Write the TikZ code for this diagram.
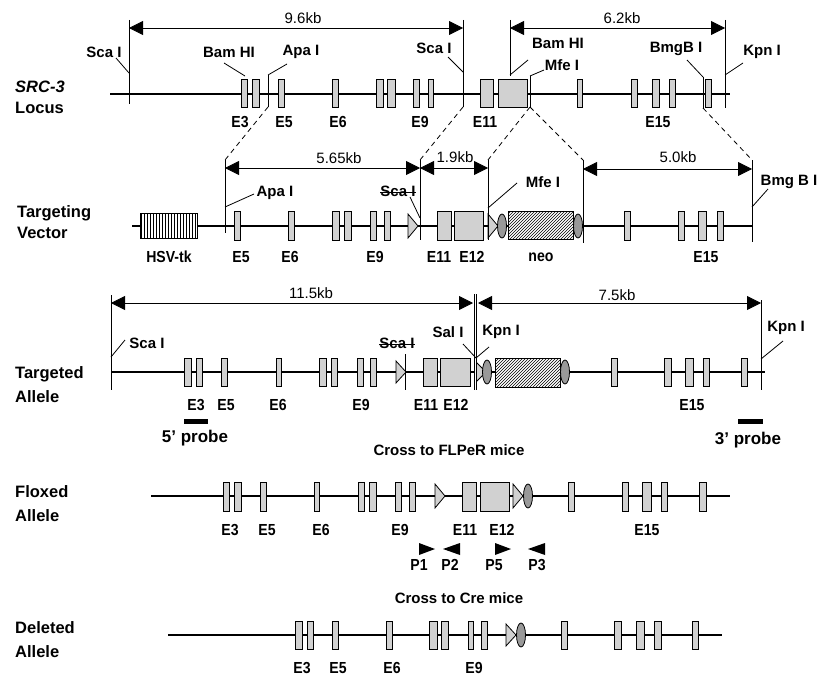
\documentclass[tikz,border=0pt]{standalone}
\usepackage{fontspec}
\setmainfont{Liberation Sans}
\newfontfamily\narrowsans{Liberation Sans}[FakeStretch=0.88]
\usetikzlibrary{arrows.meta,patterns}
\tikzset{
    chrom/.style={line width=2.8pt},
    exon/.style={draw, fill=black!18, line width=1pt},
    site/.style={line width=0.8pt},
    cutline/.style={line width=0.8pt, dash pattern=on 5pt off 4pt},
    kbspan/.style={{Triangle[length=14pt,width=14pt]}-{Triangle[length=14pt,width=14pt]}, line width=0.8pt},
    lbl/.style={inner sep=0pt, font=\fontsize{15}{15}\selectfont\bfseries},
    kblbl/.style={inner sep=0pt, font=\fontsize{15}{15}\selectfont},
    exlbl/.style={inner sep=0pt, font=\narrowsans\fontsize{16}{16}\selectfont\bfseries},
    probelbl/.style={inner sep=0pt, font=\fontsize{17}{17}\selectfont\bfseries},
    side/.style={inner sep=0pt, anchor=west, align=left, font=\fontsize{16.5}{21}\selectfont\bfseries},
    loxp/.style={draw, fill=black!18, line width=0.8pt},
    frt/.style={draw, fill=black!40, line width=0.8pt},
    primer/.style={fill=black}
}
\newcommand{\lox}[3]{\draw[loxp] (#1,#2-#3) -- (#1+10,#2) -- (#1,#2+#3) -- cycle;}
\newcommand{\frtsite}[2]{\draw[frt] (#1,#2) ellipse [x radius=4.5, y radius=12];}
\begin{document}
\begin{tikzpicture}[x=1pt,y=-1pt]
    \useasboundingbox (0,0) rectangle (827,677);
    % SRC-3 locus
    \node[side] (locus) at (15,97.5) {\textit{SRC-3}\\Locus};
    \draw[chrom] (110,94) -- (730,94);
    \foreach \a/\b in {241/247,252/259,278/284,332/338,376/383,387/395,413/419,428/433,480/493,498/527,577/582,631/637,652/659,669/675,705/711}
        \draw[exon] (\a,79) rectangle (\b,107);
    \foreach \x/\t in {240/E3,284/E5,338/E6,420/E9,485/E11,658/E15}
        \node[exlbl] (l1\t) at (\x,122) {\t};
    \draw[site] (129,20) -- (129,104);
    \draw[site] (463,20) -- (463,107);
    \draw[site] (510,20) -- (510,76);
    \draw[site] (725,20) -- (725,108);
    \draw[site] (268,75) -- (268,107);
    \draw[site] (530,76) -- (530,107);
    \draw[site] (703,77) -- (703,108);
    \draw[kbspan] (129,28) -- (463,28);
    \draw[kbspan] (510,28) -- (725,28);
    \node[kblbl] (kbA) at (303,18) {9.6kb};
    \node[kblbl] (kbB) at (622,18) {6.2kb};
    \node[lbl] (scaA) at (104,52) {Sca I};
    \node[lbl] (bamA) at (229,52) {Bam HI};
    \node[lbl] (apaA) at (301,52) {Apa I};
    \node[lbl] (scaB) at (434,48) {Sca I};
    \node[lbl] (bamB) at (558,43) {Bam HI};
    \node[lbl] (mfeA) at (562,65) {Mfe I};
    \node[lbl] (bmgA) at (676,49) {BmgB I};
    \node[lbl] (kpnA) at (762,52) {Kpn I};
    \draw[site] (116,58) -- (129,73);
    \draw[site] (224,63) -- (245,76);
    \draw[site] (287,64) -- (268,75);
    \draw[site] (448,57) -- (463,72);
    \draw[site] (528,60) -- (510,75);
    \draw[site] (544,70) -- (530,76);
    \draw[site] (687,60) -- (703,77);
    \draw[site] (743,63) -- (725,75);
    \draw[cutline] (268,107) -- (225,160);
    \draw[cutline] (463,107) -- (420,160);
    \draw[cutline] (530,107) -- (488,160);
    \draw[cutline] (530,107) -- (583,160);
    \draw[cutline] (703,108) -- (752,160);
    % targeting vector
    \node[side] (vector) at (17,222.5) {Targeting\\Vector};
    \draw[chrom] (132,226) -- (752,226);
    \draw[line width=1pt, fill=white] (140,213) rectangle (197,238);
    \draw[line width=1pt, pattern=vertical lines] (140,213) rectangle (197,238);
    \foreach \a/\b in {234/240,288/294,332/339,344/351,370/376,384/390,437/451,454/483,624/630,678/684,698/706,717/723}
        \draw[exon] (\a,211) rectangle (\b,240);
    \lox{408}{226}{12}
    \lox{488}{226}{12}
    \frtsite{502}{226}
    \draw[line width=1pt, fill=white] (508,211) rectangle (573,239);
    \draw[line width=1pt, pattern=north east lines] (508,211) rectangle (573,239);
    \frtsite{578}{226}
    \foreach \x/\t in {169/HSV-tk,241/E5,290/E6,375/E9,439/E11,472/E12,541/neo,706/E15}
        \node[exlbl] (l2\t) at (\x,257) {\t};
    \draw[site] (225,160) -- (225,233);
    \draw[site] (420,160) -- (420,240);
    \draw[site] (488,160) -- (488,240);
    \draw[site] (583,160) -- (583,243);
    \draw[site] (752,160) -- (752,242);
    \draw[kbspan] (225,168) -- (420,168);
    \draw[kbspan] (420,168) -- (488,168);
    \draw[kbspan] (583,169) -- (752,169);
    \node[kblbl] (kbC) at (339,158) {5.65kb};
    \node[kblbl] (kbD) at (455,157) {1.9kb};
    \node[kblbl] (kbE) at (678,157) {5.0kb};
    \node[lbl] (apaB) at (275,193) {Apa I};
    \node[lbl] (scaC) at (398,191) {Sca I};
    \draw[site] ([yshift=-1.5pt]scaC.west) -- ([yshift=-1.5pt]scaC.east);
    \node[lbl] (mfeB) at (543,182) {Mfe I};
    \node[lbl] (bmgB) at (789,182) {Bmg B I};
    \draw[site] (254,194) -- (225,207);
    \draw[site] (410,197) -- (420,218);
    \draw[site] (517,183) -- (488,208);
    \draw[site] (768,189) -- (752,207);
    % targeted allele
    \node[side] (targeted) at (15,385) {Targeted\\[3pt]Allele};
    \draw[chrom] (111,372) -- (765,372);
    \foreach \a/\b in {184/191,196/202,221/227,276/281,319/326,331/337,357/363,370/376,423/437,440/470,611/617,664/671,685/693,703/709,741/747}
        \draw[exon] (\a,358) rectangle (\b,386);
    \lox{396}{372}{11}
    \lox{476}{372}{10}
    \frtsite{487}{372}
    \draw[line width=1pt, fill=white] (495,358) rectangle (560,387);
    \draw[line width=1pt, pattern=north east lines] (495,358) rectangle (560,387);
    \frtsite{565}{372}
    \foreach \x/\t in {196/E3,226/E5,278/E6,361/E9,426/E11,456/E12,692/E15}
        \node[exlbl] (l3\t) at (\x,405) {\t};
    \draw[site] (111,295) -- (111,390);
    \draw[site] (405,354) -- (405,390);
    \draw[line width=0.9pt, double, double distance=1.2pt] (475.5,294) -- (475.5,390);
    \draw[site] (761,300) -- (761,390);
    \draw[kbspan] (111,303) -- (473,303);
    \draw[kbspan] (478,303) -- (761,303);
    \node[kblbl] (kbF) at (311,293) {11.5kb};
    \node[kblbl] (kbG) at (617,295) {7.5kb};
    \node[lbl] (scaD) at (147,343) {Sca I};
    \node[lbl] (scaE) at (397,343) {Sca I};
    \draw[site] ([yshift=-1.5pt]scaE.west) -- ([yshift=-1.5pt]scaE.east);
    \node[lbl] (salA) at (448,332) {Sal I};
    \node[lbl] (kpnB) at (501,332) {Kpn I};
    \node[lbl] (kpnC) at (786,328) {Kpn I};
    \draw[site] (125,340) -- (111,357);
    \draw[site] (463,344) -- (476,358);
    \draw[site] (489,347) -- (476,358);
    \draw[site] (783,341) -- (761,359);
    \draw[line width=5pt] (184,421) -- (208,421);
    \draw[line width=5pt] (738,421) -- (763,421);
    \node[probelbl] (probeA) at (195,438) {5’ probe};
    \node[probelbl] (probeB) at (748,440) {3’ probe};
    \node[lbl] (flp) at (449,450) {Cross to FLPeR mice};
    % floxed allele
    \node[side] (floxed) at (15,504) {Floxed\\[3pt]Allele};
    \draw[chrom] (151,496) -- (730,496);
    \foreach \a/\b in {223/229,234/241,260/266,314/319,358/364,369/376,395/401,409/415,462/476,480/509,568/574,622/628,642/651,661/667,699/706}
        \draw[exon] (\a,482) rectangle (\b,511);
    \lox{435}{496}{12}
    \lox{513}{496}{12}
    \frtsite{528}{496}
    \foreach \x/\t in {230/E3,267/E5,321/E6,400/E9,465/E11,502/E12,647/E15}
        \node[exlbl] (l4\t) at (\x,530) {\t};
    \fill[primer] (419,543) -- (435,549) -- (419,555) -- cycle;
    \fill[primer] (460,543) -- (443,549) -- (460,555) -- cycle;
    \fill[primer] (495,543) -- (511,549) -- (495,555) -- cycle;
    \fill[primer] (545,543) -- (528,549) -- (545,555) -- cycle;
    \foreach \x/\t in {419/P1,450/P2,494/P5,537/P3}
        \node[exlbl] (\t) at (\x,565) {\t};
    \node[lbl] (cre) at (459,598) {Cross to Cre mice};
    % deleted allele
    \node[side] (deleted) at (15,639.5) {Deleted\\[3pt]Allele};
    \draw[chrom] (168,635) -- (722,635);
    \foreach \a/\b in {295/302,307/313,332/338,386/392,429/437,441/448,468/473,481/487,561/567,614/621,636/644,654/661,692/698}
        \draw[exon] (\a,621) rectangle (\b,649);
    \lox{506}{635}{11}
    \frtsite{521}{635}
    \foreach \x/\t in {302/E3,338/E5,392/E6,474/E9}
        \node[exlbl] (l5\t) at (\x,668) {\t};
\end{tikzpicture}
\end{document}
